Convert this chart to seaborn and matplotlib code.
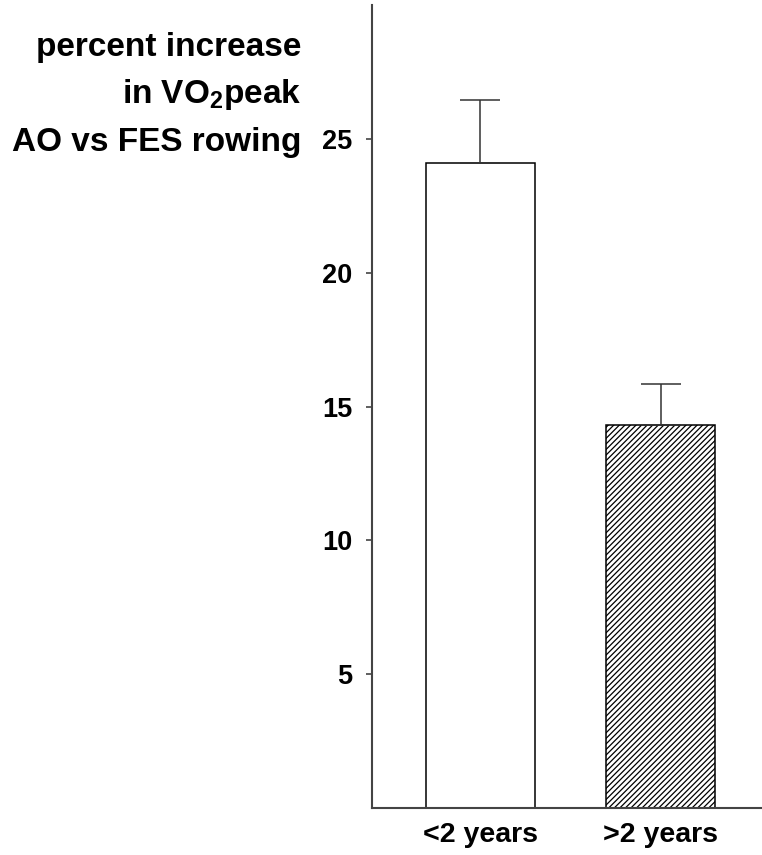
import pandas as pd
import matplotlib
matplotlib.use("Agg")
import matplotlib.pyplot as plt
import seaborn as sns

groups = ["<2 years", ">2 years"]
means = [24.1, 14.3]
sem_up = [2.35, 1.55]
hatches = ["", "//////"]
title_lines = ["percent increase", "in VO$_2$peak", "AO vs FES rowing"]

sns.set_style("ticks")
plt.rcParams['font.family'] = ['Liberation Sans', 'DejaVu Sans']
plt.rcParams['mathtext.fontset'] = 'custom'
plt.rcParams['mathtext.rm'] = 'Liberation Sans:bold'
plt.rcParams['mathtext.bf'] = 'Liberation Sans:bold'
plt.rcParams['mathtext.default'] = 'rm'
plt.rcParams['hatch.linewidth'] = 0.9
plt.rcParams['text.color'] = 'black'
plt.rcParams['xtick.labelcolor'] = 'black'
plt.rcParams['ytick.labelcolor'] = 'black'

data = pd.DataFrame({"group": groups, "value": means})

fig = plt.figure(figsize=(7.62, 8.55), dpi=100)
ax = fig.add_axes([0.488, 0.055, 0.512, 0.939])
sns.barplot(data=data, x="group", y="value", color="white", edgecolor="black",
            linewidth=1.1, width=0.604, errorbar=None, ax=ax)
for patch, h in zip(ax.patches, hatches):
    patch.set_hatch(h)
    patch.set_facecolor("white")

ax.errorbar(range(len(groups)), means, yerr=[[0] * len(groups), sem_up],
            fmt="none", ecolor="#333333", elinewidth=1.1, capsize=14.5, capthick=1.1)

ax.set_ylim(0, 30)
ax.set_xlim(-0.601, 1.56)
ax.set_yticks([5, 10, 15, 20, 25])
ax.set_xlabel("")
ax.set_ylabel("")
ax.tick_params(axis="y", labelsize=19.5, length=4, width=1.2, color="#444444", pad=10)
ax.tick_params(axis="x", labelsize=20.5, length=0, pad=10)
for lab in ax.get_xticklabels() + ax.get_yticklabels():
    lab.set_fontweight("bold")
sns.despine(ax=ax, top=True, right=True)
for s in ["left", "bottom"]:
    ax.spines[s].set_linewidth(1.5)
    ax.spines[s].set_color("#444444")

ys = [0.944, 0.889, 0.833]
for txt, y in zip(title_lines, ys):
    fig.text(0.396, y, txt, ha="right", va="center", fontsize=24, fontweight="bold")

fig.savefig("out.png", dpi=100)
